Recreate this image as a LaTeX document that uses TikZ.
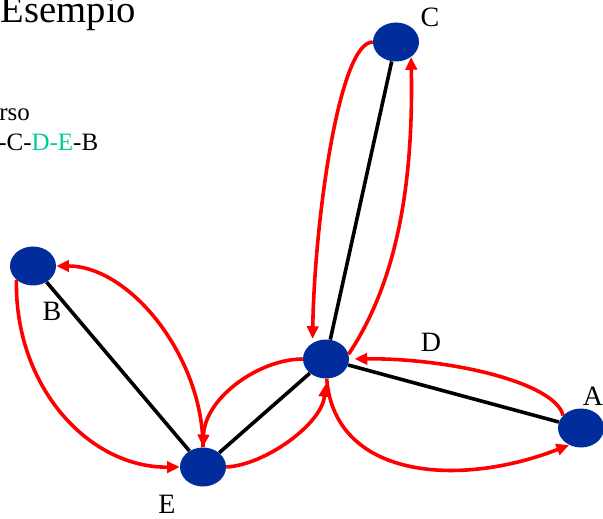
\documentclass[tikz,border=0pt]{standalone}
\usepackage{fontspec}
\setmainfont{Liberation Serif}
\usetikzlibrary{arrows.meta,shapes.geometric}
\definecolor{nodeblue}{RGB}{0,45,155}
\definecolor{pathteal}{RGB}{0,204,153}
\begin{document}
\begin{tikzpicture}[x=0.75pt,y=0.75pt,
  vert/.style={ellipse,fill=nodeblue,draw=none,minimum width=34.5pt,minimum height=29.25pt,inner sep=0pt},
  lbl/.style={inner sep=0pt,font=\fontsize{21}{25}\selectfont},
  edge/.style={line width=2.7pt,black},
  walk/.style={line width=2.7pt,red,-{Triangle[length=9.5pt,width=8.5pt]}},
  txt/.style={inner sep=0pt,anchor=base west}]
\useasboundingbox (0,0) rectangle (603,518);
% vertices
\node[vert] (C) at (396,476) {};
\node[vert] (D) at (326,159) {};
\node[vert] (A) at (581,90) {};
\node[vert] (B) at (33,252) {};
\node[vert] (E) at (203,51) {};
% labels
\node[lbl] (lC) at (430,501) {C};
\node[lbl] (lD) at (431,176) {D};
\node[lbl] (lA) at (593,122) {A};
\node[lbl] (lB) at (52,207) {B};
\node[lbl] (lE) at (167,14) {E};
% texts
\node[txt,font=\fontsize{29}{33}\selectfont] (title) at (0.5,495) {Esempio};
\node[txt,font=\fontsize{18.75}{22}\selectfont] (t1) at (-1,397) {rso};
\node[txt,font=\fontsize{18.75}{22}\selectfont] (t2) at (-2,367) {-C-\textcolor{pathteal}{D-E}-B};
% black edges
\draw[edge] (B) -- (E);
\draw[edge] (E) -- (D);
\draw[edge] (D) -- (C);
\draw[edge] (D) -- (A);
% red walk
\draw[walk] (D.-88) .. controls +(8,-100) and +(-110,-43) .. (A.235);
\draw[walk,shorten >=4pt] (A.145) .. controls +(-8,33) and +(100,1) .. (D.0);
\draw[walk] (D.12) .. controls +(40,60) and +(3,-150) .. (C.-45);
\draw[walk,shorten >=3pt] (C.180) .. controls +(-34,0) and +(2,120) .. (D.130);
\draw[walk] (D.180) .. controls +(-43,0) and +(2,50) .. (E.90);
\draw[walk] (E.90) .. controls +(0,90) and +(74,0) .. (B.0);
\draw[walk] (B.220) .. controls +(-2,-108) and +(-90,-1) .. (E.180);
\draw[walk,shorten >=4pt] (E.0) .. controls +(39,2) and +(-4,-45) .. (D.-90);
\end{tikzpicture}
\end{document}
